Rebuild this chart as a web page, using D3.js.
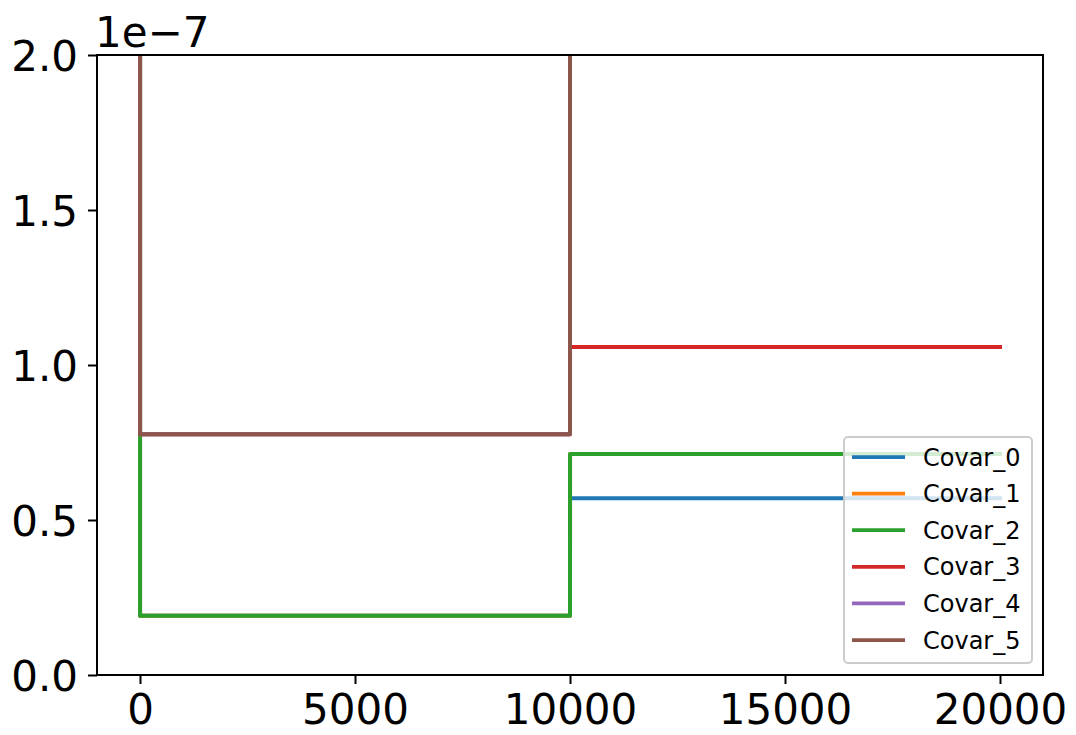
<!DOCTYPE html>
<html>
<head>
<meta charset="utf-8">
<script src="https://cdn.jsdelivr.net/npm/d3@7"></script>
<style>
  html, body { margin: 0; padding: 0; background: #fff; }
  svg { display: block; font-family: "DejaVu Sans", sans-serif; }
</style>
</head>
<body>
<svg id="chart" width="1076" height="735"></svg>
<script>
// ---- data ----
const iterations = [0, 1, 10000, 10001, 20000];
const seriesNames = ["Covar_0", "Covar_1", "Covar_2", "Covar_3", "Covar_4", "Covar_5"];
const covar0 = [3e-6, 0.191e-7, 0.191e-7, 0.570e-7, 0.570e-7];
const covar1 = [3e-6, 0.191e-7, 0.191e-7, 0.713e-7, 0.713e-7];
const covar2 = [3e-6, 0.191e-7, 0.191e-7, 0.713e-7, 0.713e-7];
const covar3 = [3e-6, 0.7765e-7, 0.7765e-7, 1.058e-7, 1.058e-7];
const covar4 = [3e-6, 0.7765e-7, 0.7765e-7, 3e-6, 3e-6];
const covar5 = [3e-6, 0.7765e-7, 0.7765e-7, 3e-6, 3e-6];
const yTicks = [0, 0.5e-7, 1.0e-7, 1.5e-7, 2.0e-7];
const xTicks = [0, 5000, 10000, 15000, 20000];
const colors = ["#1f77b4", "#ff7f0e", "#2ca02c", "#d62728", "#9467bd", "#8c564b"];

const allSeries = [covar0, covar1, covar2, covar3, covar4, covar5];

// ---- layout ----
const svg = d3.select("#chart");
const L = 97, R = 1043, T = 55, B = 675;

const x = d3.scaleLinear().domain([-1000, 21000]).range([L, R]);
const y = d3.scaleLinear().domain([0, 2e-7]).range([B, T]);

svg.append("defs").append("clipPath").attr("id", "plotclip")
  .append("rect").attr("x", L).attr("y", T).attr("width", R - L).attr("height", B - T);

const line = d3.line().x(d => x(d[0])).y(d => y(d[1]));

const g = svg.append("g").attr("clip-path", "url(#plotclip)");
allSeries.forEach((vals, i) => {
  const pts = iterations.map((it, j) => [it, vals[j]]);
  g.append("path")
    .attr("d", line(pts))
    .attr("fill", "none")
    .attr("stroke", colors[i])
    .attr("stroke-width", 4)
    .attr("stroke-linecap", "square")
    .attr("stroke-linejoin", "round");
});

// axes
const fs = 42;
const yAxis = d3.axisLeft(y).tickValues(yTicks)
  .tickFormat(d => (d / 1e-7).toFixed(1)).tickSizeInner(9).tickSizeOuter(0).tickPadding(10);
const xAxis = d3.axisBottom(x).tickValues(xTicks)
  .tickFormat(d => String(d)).tickSizeInner(9).tickSizeOuter(0).tickPadding(9);

const ya = svg.append("g").attr("transform", `translate(${L},0)`).call(yAxis);
const xa = svg.append("g").attr("transform", `translate(0,${B})`).call(xAxis);
[ya, xa].forEach(a => {
  a.select(".domain").remove();
  a.selectAll(".tick line").attr("stroke", "#000").attr("stroke-width", 2);
  a.selectAll(".tick text").attr("fill", "#000").attr("font-size", fs)
    .attr("font-family", "DejaVu Sans");
});
ya.selectAll(".tick text").attr("dy", "0.36em");
xa.selectAll(".tick text").attr("dy", "0.74em");

// frame
svg.append("rect").attr("x", L).attr("y", T).attr("width", R - L).attr("height", B - T)
  .attr("fill", "none").attr("stroke", "#000").attr("stroke-width", 2);

// offset text
svg.append("text").attr("x", 95).attr("y", 47).attr("font-size", fs).attr("fill", "#000")
  .text("1e\u22127");

// legend
const lg = svg.append("g");
lg.append("rect").attr("x", 844).attr("y", 437).attr("width", 188).attr("height", 226)
  .attr("rx", 4).attr("ry", 4)
  .attr("fill", "rgba(255,255,255,0.8)").attr("stroke", "#cccccc").attr("stroke-width", 2);
seriesNames.forEach((n, i) => {
  const yy = 457 + i * 36.6;
  lg.append("line").attr("x1", 852).attr("x2", 905).attr("y1", yy).attr("y2", yy)
    .attr("stroke", colors[i]).attr("stroke-width", 3.75);
  lg.append("text").attr("x", 923).attr("y", yy).attr("dy", "0.36em")
    .attr("font-size", 24).attr("fill", "#000").text(n);
});
</script>
</body>
</html>
